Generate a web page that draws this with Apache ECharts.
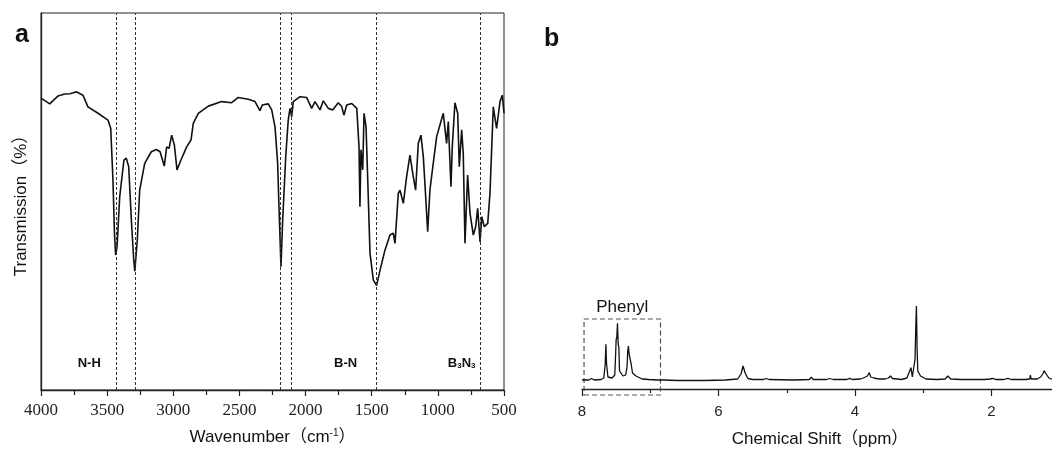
<!DOCTYPE html>
<html>
<head>
<meta charset="utf-8">
<title>FTIR / NMR</title>
<script src="https://cdn.jsdelivr.net/npm/echarts@6/dist/echarts.min.js"></script>
<style>
  html, body { margin: 0; padding: 0; background: #fff; }
  #chart { width: 1052px; height: 452px; }
</style>
</head>
<body>
<div id="chart"></div>
<script>
// panel a: FTIR, [wavenumber, transmission]
var ftirPoints = [
  [4000,77.4],[3934,75.9],[3871,78.0],[3821,78.5],[3780,78.6],[3733,79.1],[3683,78.2],[3645,75.1],
  [3569,73.4],[3494,71.6],[3473,69.4],[3456,55.7],[3445,42],[3436,35.8],[3425,38],[3405,51.3],
  [3373,61],[3355,61.5],[3337,59.2],[3317,45.1],[3300,35],[3291,31.5],[3272,39.8],[3254,53],
  [3216,60.1],[3166,63.2],[3128,63.8],[3100,63.2],[3068,59.4],[3050,64.5],[3032,64.1],[3012,67.6],
  [2992,65],[2972,58.4],[2942,61],[2899,64.5],[2866,66.3],[2849,70.7],[2811,73.4],[2735,75.3],
  [2634,76.5],[2559,76.2],[2509,77.6],[2433,77.1],[2382,76.5],[2345,74.1],[2327,75.6],[2282,75.9],
  [2256,74.3],[2231,69.8],[2211,60.1],[2201,48.6],[2186,32.7],[2173,45.1],[2150,61.9],[2131,71.6],
  [2118,74.7],[2105,72.5],[2093,76.5],[2042,77.8],[1992,77.6],[1954,74.7],[1929,76.5],[1891,74.3],
  [1866,76.7],[1828,74.7],[1795,74.3],[1753,76.2],[1727,75.2],[1710,72.9],[1689,75.6],[1651,76],
  [1613,74.7],[1596,64.5],[1589,48.6],[1581,63.7],[1568,58.4],[1558,73.4],[1543,69.8],[1530,55.7],
  [1513,36.3],[1488,29.2],[1463,27.7],[1437,31.8],[1400,37.1],[1362,41.1],[1337,41.6],[1324,38.9],
  [1299,52.2],[1286,53],[1261,49.5],[1236,56.6],[1211,62.3],[1186,56.6],[1168,53],[1148,65.4],
  [1128,67.6],[1110,61.9],[1092,51.3],[1077,42],[1060,53],[1035,60.1],[1009,67.2],[959,73.4],
  [934,65.4],[921,71.2],[901,53.9],[891,64.5],[871,76.2],[850,73.4],[838,59.2],[820,69],
  [808,62.8],[795,38.9],[775,57],[757,46.9],[732,41.1],[714,43.3],[699,48.2],[681,39.3],
  [668,46],[649,43.3],[623,44.2],[606,52.2],[581,75.1],[556,69.4],[530,76.5],[513,78.2],[500,73.4]
];
var peakLines = [3430, 3290, 2188, 2105, 1463, 678];
var bandLabels = [[3635, 7.1, 'N-H'], [1697, 7.1, 'B-N'], [820, 7.1, 'B3N3']];

// panel b: 1H NMR, [ppm, intensity]
var nmrPoints = [
  [8.00,9],[7.90,9],[7.86,10.5],[7.82,9],[7.72,9.5],[7.68,11],[7.66,25],[7.65,44.7],[7.64,25],
  [7.62,12],[7.56,11],[7.52,14],[7.51,30],[7.50,49],[7.49,52],[7.48,65.7],[7.47,45],[7.46,42],
  [7.45,18],[7.40,13],[7.36,14],[7.34,22],[7.33,38],[7.32,43],[7.31,35],[7.30,37],[7.29,35.7],
  [7.28,25],[7.26,16],[7.22,13.5],[7.18,12],[7.12,10],[7.02,9.5],[6.90,9],[6.80,9],[6.60,8.5],
  [6.20,8.5],[5.90,9],[5.72,10],[5.67,15],[5.64,23],[5.61,16],[5.57,10.5],[5.50,9.5],[5.34,9.5],
  [5.30,10.5],[5.26,9.5],[4.90,9],[4.67,9.5],[4.64,11.7],[4.61,9.5],[4.42,9.5],[4.37,10.5],
  [4.32,9.5],[4.12,9.5],[4.08,10.7],[4.04,9.5],[3.92,10],[3.86,11.5],[3.82,13],[3.79,16.3],
  [3.77,12],[3.72,11],[3.69,10.5],[3.64,10],[3.56,10],[3.51,11],[3.48,13],[3.45,10.5],[3.32,9.5],
  [3.24,11],[3.21,16],[3.18,21.3],[3.16,12],[3.14,14],[3.12,30],[3.11,61],[3.10,83],[3.09,40],
  [3.08,18],[3.06,19],[3.04,13],[2.96,10],[2.80,9.5],[2.68,10],[2.64,13],[2.60,10],[2.45,9.5],
  [2.10,9.5],[2.02,10],[1.98,10.7],[1.94,9.5],[1.82,9.5],[1.76,10.7],[1.71,9.5],[1.50,9.5],
  [1.44,10],[1.43,14],[1.42,10],[1.33,10],[1.28,12],[1.24,16],[1.23,18.3],[1.20,15],[1.16,11],
  [1.10,9.5],[1.00,9],[0.90,9]
];
var phenylBox = [7.97, 6.85, -6, 70];

var sans = 'Liberation Sans, Arial, "Noto Sans CJK SC", sans-serif';
var serif = 'Liberation Serif, "Times New Roman", serif';

function subLabel(s) {
  // B3N3 -> B with subscript 3 etc
  return s.replace(/([A-Za-z\-]+)|(\d+)/g, function (m, a, d) {
    return a ? '{b|' + a + '}' : '{s|' + d + '}';
  });
}

var myChart = echarts.init(document.getElementById('chart'), null, { renderer: 'canvas' });
var option = {
  animation: false,
  backgroundColor: '#fff',
  graphic: [
    { type: 'text', left: 15, top: 23, style: { text: 'a', font: 'bold 25px ' + sans, fill: '#111' } },
    { type: 'text', left: 544, top: 27, style: { text: 'b', font: 'bold 25px ' + sans, fill: '#111' } }
  ],
  grid: [
    { left: 41, right: 548, top: 13, bottom: 62, show: true, borderColor: '#222', borderWidth: 1, outerBoundsMode: 'none' },
    { left: 582, width: 546, top: 13, bottom: 53, outerBoundsMode: 'none' }
  ],
  xAxis: [
    {
      gridIndex: 0, type: 'value', min: 500, max: 4000, interval: 500, inverse: true,
      name: '{t|Wavenumber（cm}{sup|-1}{t|）}', nameLocation: 'middle', nameGap: 38,
      nameTextStyle: {
        rich: {
          t: { fontFamily: sans, fontSize: 17, color: '#111' },
          sup: { fontFamily: sans, fontSize: 10, color: '#111', verticalAlign: 'top', padding: [0, 0, 8, 0] }
        }
      },
      axisLine: { lineStyle: { color: '#222', width: 1.3 } },
      axisTick: { length: 6, lineStyle: { color: '#222', width: 1.2 } },
      minorTick: { show: true, splitNumber: 2, length: 5, lineStyle: { color: '#222', width: 1.2 } },
      axisLabel: { fontFamily: serif, fontSize: 17, color: '#222', margin: 12, formatter: function (v) { return String(v); } },
      splitLine: { show: false }
    },
    {
      gridIndex: 1, type: 'value', min: 0, max: 8, interval: 2, inverse: true,
      name: 'Chemical Shift（ppm）', nameLocation: 'middle', nameGap: 32,
      nameTextStyle: { fontFamily: sans, fontSize: 17, color: '#111', padding: [0, 70, 0, 0] },
      axisLine: { onZero: true, lineStyle: { color: '#222', width: 1.3 } },
      axisTick: { length: 7, lineStyle: { color: '#222', width: 1.2 } },
      minorTick: { show: true, splitNumber: 2, length: 4, lineStyle: { color: '#222', width: 1.2 } },
      axisLabel: { fontFamily: sans, fontSize: 15, color: '#222', margin: 5 },
      splitLine: { show: false }
    }
  ],
  yAxis: [
    {
      gridIndex: 0, type: 'value', min: 0, max: 100,
      name: 'Transmission（%）', nameLocation: 'middle', nameGap: 11,
      nameTextStyle: { fontFamily: sans, fontSize: 17, color: '#111' },
      axisLine: { show: true, lineStyle: { color: '#222', width: 1.3 } },
      axisTick: { show: false }, axisLabel: { show: false }, splitLine: { show: false }
    },
    {
      gridIndex: 1, type: 'value', min: -10, max: 376, show: false
    }
  ],
  series: [
    {
      name: 'FTIR', type: 'line', xAxisIndex: 0, yAxisIndex: 0,
      data: ftirPoints, showSymbol: false, smooth: false,
      lineStyle: { color: '#111', width: 1.6 },
      markLine: {
        silent: true, symbol: 'none', label: { show: false },
        lineStyle: { color: '#333', width: 1, type: [3, 2] },
        data: peakLines.map(function (w) { return { xAxis: w }; })
      }
    },
    {
      name: 'bands', type: 'scatter', xAxisIndex: 0, yAxisIndex: 0,
      data: bandLabels, symbolSize: 0, silent: true,
      itemStyle: { color: '#111', opacity: 1 },
      label: {
        show: true, position: 'inside', color: '#111', fontWeight: 'bold',
        formatter: function (p) { return subLabel(p.data[2]); },
        rich: {
          b: { fontFamily: sans, fontSize: 13, fontWeight: 'bold', color: '#111' },
          s: { fontFamily: sans, fontSize: 8, fontWeight: 'bold', color: '#111', verticalAlign: 'bottom', padding: [6, 0, 0, 0] }
        }
      }
    },
    {
      name: 'NMR', type: 'line', xAxisIndex: 1, yAxisIndex: 1,
      data: nmrPoints, showSymbol: false, clip: false,
      lineStyle: { color: '#111', width: 1.3 },
      markArea: {
        silent: true,
        itemStyle: { color: 'rgba(0,0,0,0)', borderColor: '#555', borderWidth: 1.2, borderType: [5, 3] },
        label: { show: true, position: 'top', distance: 3, fontFamily: sans, fontSize: 17, color: '#111' },
        data: [[
          { name: 'Phenyl', xAxis: phenylBox[0], yAxis: phenylBox[2] },
          { xAxis: phenylBox[1], yAxis: phenylBox[3] }
        ]]
      }
    }
  ]
};
myChart.setOption(option);
</script>
</body>
</html>
